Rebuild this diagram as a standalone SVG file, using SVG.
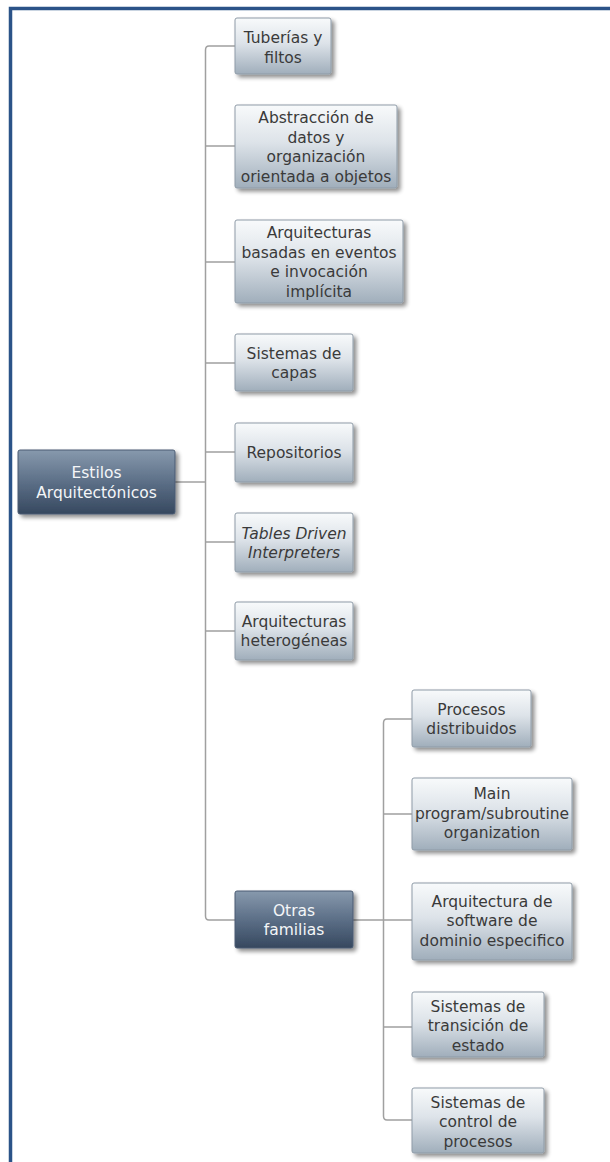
<svg xmlns="http://www.w3.org/2000/svg" width="610" height="1162" viewBox="0 0 610 1162">
  <defs>
    <linearGradient id="gLight" x1="0" y1="0" x2="0" y2="1">
      <stop offset="0" stop-color="#f8fafb"/>
      <stop offset="0.45" stop-color="#dde3e9"/>
      <stop offset="1" stop-color="#a0aebb"/>
    </linearGradient>
    <linearGradient id="gDark" x1="0" y1="0" x2="0" y2="1">
      <stop offset="0" stop-color="#8799ad"/>
      <stop offset="0.5" stop-color="#5c6f87"/>
      <stop offset="1" stop-color="#36485f"/>
    </linearGradient>
    <filter id="shadow" x="-10%" y="-10%" width="130%" height="140%">
      <feGaussianBlur in="SourceAlpha" stdDeviation="2"/>
      <feOffset dx="3" dy="3" result="b"/>
      <feComponentTransfer><feFuncA type="linear" slope="0.45"/></feComponentTransfer>
      <feMerge><feMergeNode/><feMergeNode in="SourceGraphic"/></feMerge>
    </filter>
  </defs>
  <style>
    .light { fill: url(#gLight); stroke: #8e9ba7; stroke-width: 1; filter: url(#shadow); }
    .dark { fill: url(#gDark); stroke: #4a5b72; stroke-width: 1; filter: url(#shadow); }
    .t { font-family: "DejaVu Sans", Verdana, sans-serif; font-size: 15.5px; text-anchor: middle; fill: #3a3a3a; }
    .tw { font-family: "DejaVu Sans", Verdana, sans-serif; font-size: 15.5px; text-anchor: middle; fill: #f4f6f8; }
    .it { font-style: italic; }
    .conn { fill: none; stroke: #a0a0a0; stroke-width: 1.5; }
    .frame { fill: none; stroke: #2b5388; stroke-width: 3.5; }
  </style>

  <rect width="610" height="1162" fill="#ffffff"/>
  <path class="frame" d="M10.5 1162 V8.5 H610"/>

  <!-- tree connectors -->
  <g id="connectors">
    <path class="conn" d="M235 46 H209 Q205.5 46 205.5 50 V916 Q205.5 920 209 920 H235"/>
    <path class="conn" d="M175 482 H205.5"/>
    <path class="conn" d="M205.5 146 H235 M205.5 262 H235 M205.5 363 H235 M205.5 452 H235 M205.5 542 H235 M205.5 631 H235"/>
    <path class="conn" d="M412 719 H387 Q383.5 719 383.5 723 V1116 Q383.5 1120 387 1120 H412"/>
    <path class="conn" d="M353 920 H412 M383.5 814 H412 M383.5 1027 H412"/>
  </g>

  <g id="root">
    <rect class="dark" x="18" y="450" width="157" height="64" rx="2"/>
    <text class="tw" x="96.5" y="478">Estilos</text>
    <text class="tw" x="96.5" y="497.5">Arquitectónicos</text>
  </g>

  <g id="tuberias">
    <rect class="light" x="235" y="18" width="96" height="56" rx="2"/>
    <text class="t" x="283" y="43">Tuberías y</text>
    <text class="t" x="283" y="62.5">filtos</text>
  </g>

  <g id="abstraccion">
    <rect class="light" x="235" y="105" width="162" height="83" rx="2"/>
    <text class="t" x="316" y="123">Abstracción de</text>
    <text class="t" x="316" y="142.5">datos y</text>
    <text class="t" x="316" y="162">organización</text>
    <text class="t" x="316" y="181.5">orientada a objetos</text>
  </g>

  <g id="eventos">
    <rect class="light" x="235" y="220" width="168" height="83" rx="2"/>
    <text class="t" x="319" y="238">Arquitecturas</text>
    <text class="t" x="319" y="257.5">basadas en eventos</text>
    <text class="t" x="319" y="277">e invocación</text>
    <text class="t" x="319" y="296.5">implícita</text>
  </g>

  <g id="capas">
    <rect class="light" x="235" y="334" width="118" height="57" rx="2"/>
    <text class="t" x="294" y="358.5">Sistemas de</text>
    <text class="t" x="294" y="378">capas</text>
  </g>

  <g id="repositorios">
    <rect class="light" x="235" y="423" width="118" height="59" rx="2"/>
    <text class="t" x="294" y="458">Repositorios</text>
  </g>

  <g id="tables">
    <rect class="light" x="235" y="513" width="118" height="59" rx="2"/>
    <text class="t it" x="294" y="538.5">Tables Driven</text>
    <text class="t it" x="294" y="558">Interpreters</text>
  </g>

  <g id="heterogeneas">
    <rect class="light" x="235" y="602" width="118" height="58" rx="2"/>
    <text class="t" x="294" y="626.5">Arquitecturas</text>
    <text class="t" x="294" y="646">heterogéneas</text>
  </g>

  <g id="otras">
    <rect class="dark" x="235" y="891" width="118" height="57" rx="2"/>
    <text class="tw" x="294" y="915.5">Otras</text>
    <text class="tw" x="294" y="935">familias</text>
  </g>

  <g id="distribuidos">
    <rect class="light" x="412" y="690" width="119" height="57" rx="2"/>
    <text class="t" x="471.5" y="714.5">Procesos</text>
    <text class="t" x="471.5" y="734">distribuidos</text>
  </g>

  <g id="mainprogram">
    <rect class="light" x="412" y="778" width="160" height="72" rx="2"/>
    <text class="t" x="492" y="799">Main</text>
    <text class="t" x="492" y="818.5">program/subroutine</text>
    <text class="t" x="492" y="838">organization</text>
  </g>

  <g id="dominio">
    <rect class="light" x="412" y="883" width="160" height="77" rx="2"/>
    <text class="t" x="492" y="906.5">Arquitectura de</text>
    <text class="t" x="492" y="926">software de</text>
    <text class="t" x="492" y="945.5">dominio especifico</text>
  </g>

  <g id="transicion">
    <rect class="light" x="412" y="992" width="132" height="65" rx="2"/>
    <text class="t" x="478" y="1011.5">Sistemas de</text>
    <text class="t" x="478" y="1031">transición de</text>
    <text class="t" x="478" y="1050.5">estado</text>
  </g>

  <g id="control">
    <rect class="light" x="412" y="1088" width="132" height="65" rx="2"/>
    <text class="t" x="478" y="1107.5">Sistemas de</text>
    <text class="t" x="478" y="1127">control de</text>
    <text class="t" x="478" y="1146.5">procesos</text>
  </g>
</svg>
